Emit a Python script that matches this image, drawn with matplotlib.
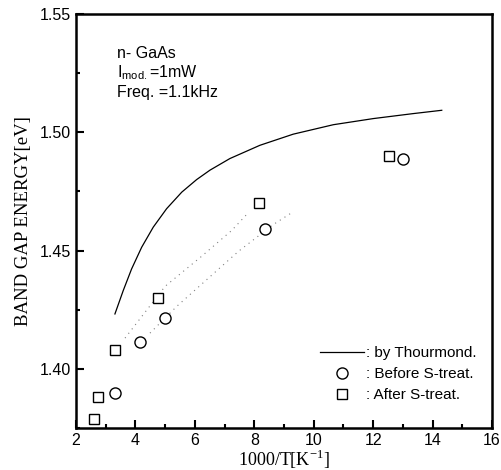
import matplotlib
matplotlib.use('Agg')
import matplotlib.pyplot as plt
from matplotlib.ticker import MultipleLocator, FormatStrFormatter

plt.rcParams['font.family'] = ['Liberation Sans', 'DejaVu Sans']
plt.rcParams['mathtext.fontset'] = 'custom'
plt.rcParams['mathtext.rm'] = 'Liberation Serif'
plt.rcParams['mathtext.sf'] = 'Liberation Sans'

# Data
thour_x = [3.31, 3.59, 3.87, 4.21, 4.60, 5.05, 5.56, 6.06, 6.51, 7.18,
           8.19, 9.31, 10.66, 12.01, 13.35, 14.31]
thour_y = [1.4232, 1.4331, 1.4422, 1.4514, 1.4599, 1.4677, 1.4747, 1.4800,
           1.4840, 1.4889, 1.4945, 1.4992, 1.5032, 1.5058, 1.5079, 1.5093]

before_x = [3.31, 4.15, 5.0, 8.36, 13.0]
before_y = [1.3898, 1.4114, 1.4216, 1.4593, 1.4886]

after_x = [2.6, 2.74, 3.31, 4.76, 8.16, 12.54]
after_y = [1.379, 1.388, 1.408, 1.430, 1.4703, 1.4898]

# dotted guide curves
fit_after_x = [3.65, 5.0, 6.23, 7.24, 7.80]
fit_after_y = [1.413, 1.4349, 1.4476, 1.4585, 1.466]
fit_before_x = [4.49, 5.39, 7.47, 8.64, 9.26]
fit_before_y = [1.4151, 1.4264, 1.4497, 1.461, 1.466]

fig = plt.figure(figsize=(5.02, 4.70), dpi=100)
ax = fig.add_axes([0.1514, 0.0894, 0.8286, 0.8808])

ax.plot(thour_x, thour_y, color='black', linewidth=0.9, label=': by Thourmond.')
ax.plot(fit_after_x, fit_after_y, color='gray', linestyle=(0, (1, 4)), linewidth=0.8)
ax.plot(fit_before_x, fit_before_y, color='gray', linestyle=(0, (1, 4)), linewidth=0.8)
ax.plot(before_x, before_y, linestyle='none', marker='o', markersize=8,
        markerfacecolor='white', markeredgecolor='black', markeredgewidth=1.0,
        label=': Before S-treat.')
ax.plot(after_x, after_y, linestyle='none', marker='s', markersize=7.5,
        markerfacecolor='white', markeredgecolor='black', markeredgewidth=1.0,
        label=': After S-treat.')

ax.set_xlim(2, 16)
ax.set_ylim(1.375, 1.55)
ax.xaxis.set_major_locator(MultipleLocator(2))
ax.xaxis.set_minor_locator(MultipleLocator(1))
ax.yaxis.set_major_locator(MultipleLocator(0.05))
ax.yaxis.set_minor_locator(MultipleLocator(0.025))
ax.yaxis.set_major_formatter(FormatStrFormatter('%.2f'))
ax.tick_params(which='both', direction='in', labelsize=11.5, width=1.5)
ax.tick_params(which='major', length=6)
ax.tick_params(which='minor', length=3)
for s in ax.spines.values():
    s.set_linewidth(1.8)

ax.set_xlabel(r'1000/T[K$^{-1}$]', family='Liberation Serif', fontsize=13, labelpad=0)
ax.set_ylabel('BAND GAP ENERGY[eV]', family='Liberation Serif', fontsize=13.5, labelpad=6)

ax.text(0.098, 0.905, 'n- GaAs', transform=ax.transAxes, fontsize=11.5, va='center')
ax.text(0.098, 0.858, r'I$_{\mathsf{mod.}}$=1mW', transform=ax.transAxes, fontsize=11.5, va='center')
ax.text(0.098, 0.810, 'Freq. =1.1kHz', transform=ax.transAxes, fontsize=11.5, va='center')

ax.legend(loc='lower right', bbox_to_anchor=(0.978, 0.048), borderaxespad=0,
          frameon=False, fontsize=11, handlelength=2.9,
          handletextpad=0.15, labelspacing=0.45)

plt.savefig('out.png', dpi=100)
